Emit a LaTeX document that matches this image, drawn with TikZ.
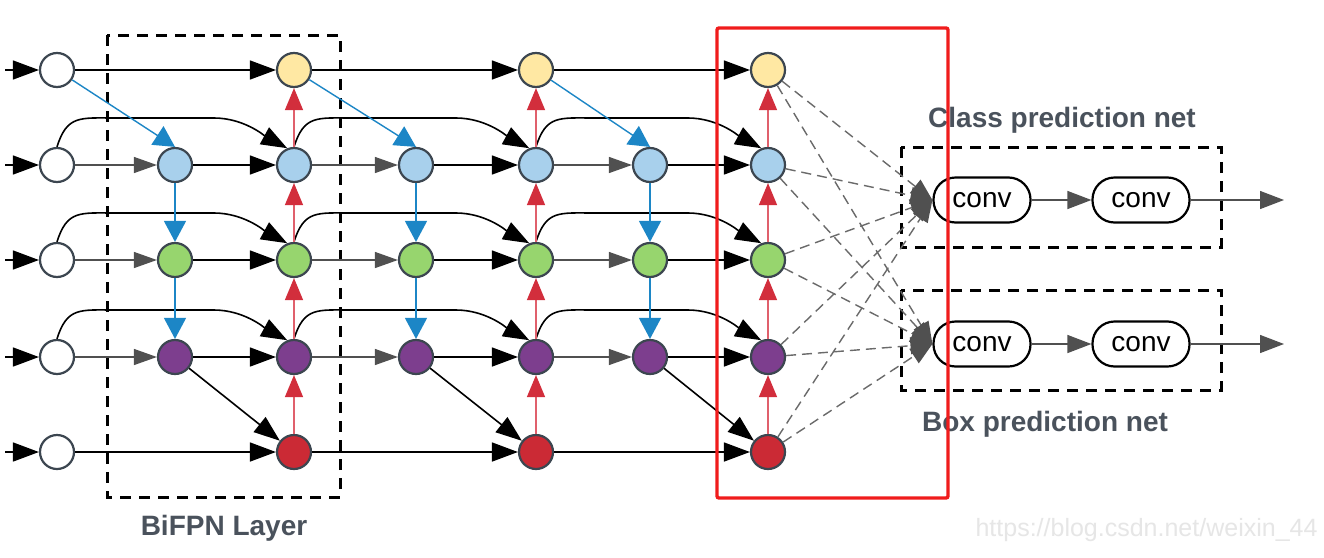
\documentclass[tikz,border=0pt]{standalone}
\usepackage{fontspec}
\setmainfont{Liberation Sans}
\usetikzlibrary{arrows.meta,calc}
\definecolor{cyel}{HTML}{FFE8A3}
\definecolor{cblu}{HTML}{A8D0EC}
\definecolor{cgrn}{HTML}{97D56E}
\definecolor{cpur}{HTML}{7D3E8E}
\definecolor{cred}{HTML}{CB2A35}
\definecolor{cout}{HTML}{3C4650}
\definecolor{ablue}{HTML}{1C86C6}
\definecolor{ared}{HTML}{D22E3C}
\definecolor{lred}{HTML}{E0606C}
\definecolor{agray}{HTML}{505050}
\definecolor{dgray}{HTML}{6A6A6A}
\definecolor{lbl}{HTML}{4A525C}
\definecolor{frame}{HTML}{F01C1C}
\definecolor{wmark}{HTML}{E6E6E6}
\newcommand\skc[2]{\draw[blk] (#1.north) .. controls +(10,-32) and +(-35,0) .. ($(#1)+(58,-47)$) -- ($(#2)+(-80,-47)$) .. controls +(30,0) and +(-22,-12) .. (#2.112);}
\begin{document}
\begin{tikzpicture}[x=1pt,y=-1pt,
  nd/.style={circle,draw=cout,line width=2.2pt,minimum size=34pt,inner sep=0pt},
  blk/.style={draw=black,line width=1.6pt,-{Triangle[length=26pt,width=19pt]}},
  gry/.style={draw=agray,line width=1.3pt,-{Triangle[length=23pt,width=16pt]}},
  blu/.style={draw=ablue,line width=1.4pt,-{Triangle[length=21pt,width=22pt,fill=ablue]}},
  rdd/.style={draw=lred,line width=1.4pt,-{Triangle[length=22pt,width=18pt,color=ared]}},
  dsh/.style={draw=dgray,line width=1.4pt,dash pattern=on 10pt off 6pt,-{Triangle[length=22pt,width=17pt,color=agray]}},
  box/.style={draw=black,line width=3pt,dash pattern=on 11pt off 8pt},
  pill/.style={draw=black,line width=2.2pt,rounded corners=22pt,minimum width=97pt,minimum height=45pt,font=\fontsize{28}{30}\selectfont},
  lab/.style={text=lbl,font=\fontsize{28}{30}\selectfont\bfseries},
  cg/.style={draw=agray,line width=1.3pt,-{Triangle[length=24pt,width=18pt,color=agray]}}
]
\useasboundingbox (0,0) rectangle (1324,557);
\fill[white] (0,0) rectangle (1324,557);

% frames
\draw[box] (107,35) rectangle (340,497);
\node[lab] (bifpn) at (224,528) {BiFPN Layer};
\draw[box] (901,147) rectangle (1221,247);
\draw[box] (901,290) rectangle (1221,390);
\node[lab] (cls) at (1062,120) {Class prediction net};
\node[lab] (bxl) at (1045,424) {Box prediction net};

% nodes
\foreach \r/\y in {1/70,2/165,3/260,4/357,5/452}{
  \node[nd,fill=white] (I\r) at (57,\y) {};
  \coordinate (s\r) at (5,\y);
}
\foreach \c/\x in {B/294,D/536,F/768}{
  \node[nd,fill=cyel] (\c1) at (\x,70) {};
  \node[nd,fill=cblu] (\c2) at (\x,165) {};
  \node[nd,fill=cgrn] (\c3) at (\x,260) {};
  \node[nd,fill=cpur] (\c4) at (\x,357) {};
  \node[nd,fill=cred] (\c5) at (\x,452) {};
}
\foreach \c/\x in {A/175,C/416,E/650}{
  \node[nd,fill=cblu] (\c2) at (\x,165) {};
  \node[nd,fill=cgrn] (\c3) at (\x,260) {};
  \node[nd,fill=cpur] (\c4) at (\x,357) {};
}

% inputs
\foreach \r in {1,...,5}{ \draw[blk] (s\r) -- (I\r); }

% rows 1 and 5
\draw[blk] (I1) -- (B1); \draw[blk] (B1) -- (D1); \draw[blk] (D1) -- (F1);
\draw[blk] (I5) -- (B5); \draw[blk] (B5) -- (D5); \draw[blk] (D5) -- (F5);

% rows 2-4
\foreach \r in {2,3,4}{
  \draw[gry] (I\r) -- (A\r); \draw[blk] (A\r) -- (B\r);
  \draw[gry] (B\r) -- (C\r); \draw[blk] (C\r) -- (D\r);
  \draw[gry] (D\r) -- (E\r); \draw[blk] (E\r) -- (F\r);
  \skc{I\r}{B\r}
  \skc{B\r}{D\r}
  \skc{D\r}{F\r}
}

% top-down (blue)
\draw[blu] (I1) -- (A2.north);
\draw[blu] (B1) -- (C2.north);
\draw[blu] (D1) -- (E2.north);
\foreach \c in {A,C,E}{
  \draw[blu] (\c2) -- (\c3);
  \draw[blu] (\c3) -- (\c4);
}
% purple to red
\draw[blk] (A4) -- (B5);
\draw[blk] (C4) -- (D5);
\draw[blk] (E4) -- (F5);

% bottom-up (red)
\foreach \c in {B,D,F}{
  \draw[rdd] (\c5) -- (\c4);
  \draw[rdd] (\c4) -- (\c3);
  \draw[rdd] (\c3) -- (\c2);
  \draw[rdd] (\c2) -- (\c1);
}

% prediction nets
\node[pill] (c1) at (982,200) {conv};
\node[pill] (c2) at (1141,200) {conv};
\node[pill] (b1) at (982,344) {conv};
\node[pill] (b2) at (1141,344) {conv};
\coordinate (co) at (1284,200);
\coordinate (bo) at (1284,344);
\draw[cg] (c1) -- (c2); \draw[cg] (c2) -- (co);
\draw[cg] (b1) -- (b2); \draw[cg] (b2) -- (bo);
\foreach \r in {1,...,5}{
  \draw[dsh] (F\r) -- (c1.west);
  \draw[dsh] (F\r) -- (b1.west);
}

% highlight frame
\draw[frame,line width=3.4pt,rounded corners=2pt] (717,28) rectangle (948,498);

% watermark
\node[anchor=east,text=wmark,font=\fontsize{25}{27}\selectfont] (wm) at (1321,530) {https://blog.csdn.net/weixin\_44};
\end{tikzpicture}
\end{document}
